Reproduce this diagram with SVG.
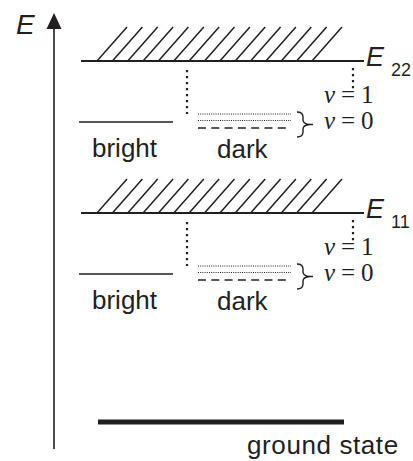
<svg xmlns="http://www.w3.org/2000/svg" width="413" height="461" viewBox="0 0 413 461">
<defs>
<style>
.ln{stroke:#231f20;stroke-width:2;fill:none}
.hatch{stroke:#231f20;stroke-width:1.5;fill:none}
.vdot{stroke:#231f20;stroke-width:2.2;stroke-dasharray:2.2 3.8;fill:none}
.fdot{stroke:#231f20;stroke-width:1;stroke-dasharray:1 1.2;fill:none}
.dash{stroke:#231f20;stroke-width:1.5;stroke-dasharray:8 5.3;fill:none}
.sans{font-family:"Liberation Sans",Arial,sans-serif;fill:#231f20}
.serif{font-family:"Liberation Serif","Times New Roman",serif;fill:#231f20;font-size:25px}
.lbl{font-size:26px}
</style>
<path id="hatchset" class="hatch" d="M97,61 l30,-34 M112.4,61 l30,-34 M127.7,61 l30,-34 M143.1,61 l30,-34 M158.4,61 l30,-34 M173.8,61 l30,-34 M189.1,61 l30,-34 M204.5,61 l30,-34 M219.9,61 l30,-34 M235.2,61 l30,-34 M250.6,61 l30,-34 M265.9,61 l30,-34 M281.3,61 l30,-34 M296.6,61 l30,-34 M312,61 l30,-34"/>
</defs>
<rect width="413" height="461" fill="#fff"/>
<g id="axis">
<line class="ln" x1="54" y1="449" x2="54" y2="26" style="stroke-width:1.6"/>
<polygon points="54,13 61.5,29 46.5,29" fill="#231f20"/>
<text class="sans" x="16" y="34" font-size="28" font-style="italic">E</text>
</g>
<g id="level-E22">
<use href="#hatchset"/>
<line class="ln" x1="81" y1="61" x2="364" y2="61"/>
<text class="sans" x="366" y="66" font-size="27" font-style="italic">E</text>
<text class="sans" x="391" y="76" font-size="18">22</text>
<line class="vdot" x1="187" y1="70" x2="187" y2="114"/>
<line class="vdot" x1="353" y1="68" x2="353" y2="90"/>
<line class="ln" x1="79" y1="122" x2="173" y2="122" style="stroke-width:1.6"/>
<text class="sans lbl" x="92" y="157">bright</text>
<line class="fdot" x1="198" y1="114" x2="291" y2="114"/>
<line class="fdot" x1="198" y1="120.5" x2="291" y2="120.5"/>
<line class="dash" x1="198" y1="128" x2="291" y2="128"/>
<text class="sans lbl" x="217" y="158">dark</text>
<path class="ln" style="stroke-width:1.4" d="M297,112 q6,0 6,5 v3 q0,4 7,4.5 q-7,0.5 -7,4.5 v3 q0,5 -6,5 M310,124.5 h3"/>
<text class="serif" x="324" y="103"><tspan font-style="italic">ν</tspan><tspan x="341">=</tspan><tspan x="361">1</tspan></text>
<text class="serif" x="324" y="129"><tspan font-style="italic">ν</tspan><tspan x="341">=</tspan><tspan x="361">0</tspan></text>
</g>
<g id="level-E11" transform="translate(0,152)">
<use href="#hatchset"/>
<line class="ln" x1="81" y1="61" x2="364" y2="61"/>
<text class="sans" x="366" y="66" font-size="27" font-style="italic">E</text>
<text class="sans" x="391" y="76" font-size="18">11</text>
<line class="vdot" x1="187" y1="70" x2="187" y2="114"/>
<line class="vdot" x1="353" y1="68" x2="353" y2="90"/>
<line class="ln" x1="79" y1="122" x2="173" y2="122" style="stroke-width:1.6"/>
<text class="sans lbl" x="92" y="157">bright</text>
<line class="fdot" x1="198" y1="114" x2="291" y2="114"/>
<line class="fdot" x1="198" y1="120.5" x2="291" y2="120.5"/>
<line class="dash" x1="198" y1="128" x2="291" y2="128"/>
<text class="sans lbl" x="217" y="158">dark</text>
<path class="ln" style="stroke-width:1.4" d="M297,112 q6,0 6,5 v3 q0,4 7,4.5 q-7,0.5 -7,4.5 v3 q0,5 -6,5 M310,124.5 h3"/>
<text class="serif" x="324" y="103"><tspan font-style="italic">ν</tspan><tspan x="341">=</tspan><tspan x="361">1</tspan></text>
<text class="serif" x="324" y="129"><tspan font-style="italic">ν</tspan><tspan x="341">=</tspan><tspan x="361">0</tspan></text>
</g>
<g id="ground-state">
<line class="ln" x1="98" y1="422" x2="344" y2="422" style="stroke-width:5"/>
<text class="sans lbl" x="247" y="454" letter-spacing="0.6">ground state</text>
</g>
</svg>
